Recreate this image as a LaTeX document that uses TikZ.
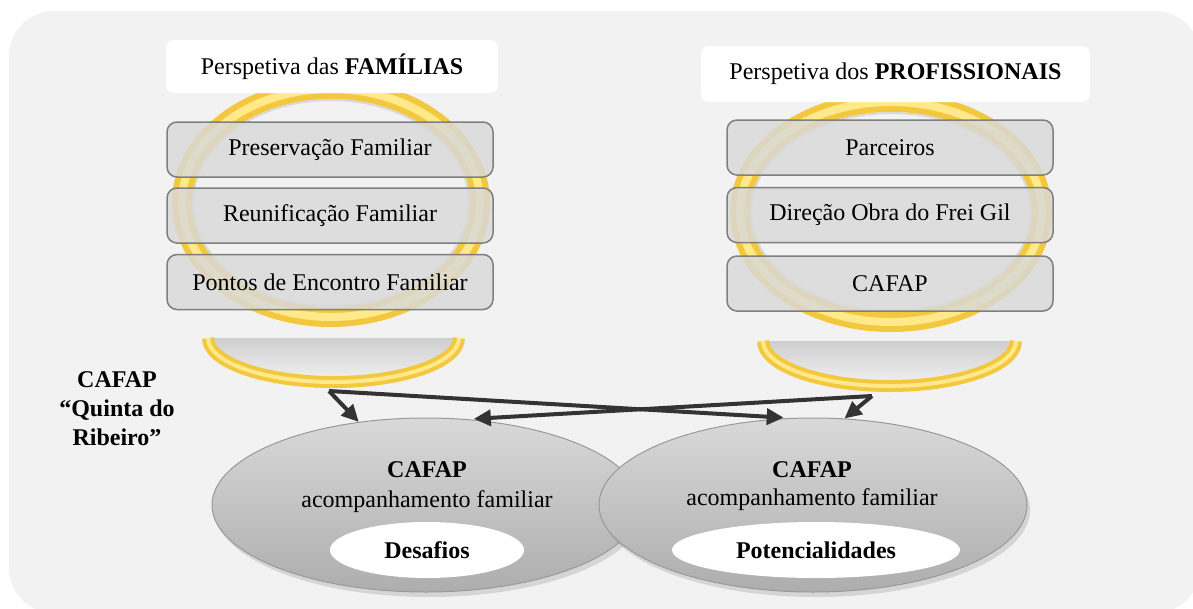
\documentclass[tikz,border=0pt]{standalone}
\usepackage{fontspec}
\setmainfont{Liberation Serif}
\usetikzlibrary{positioning,shapes.geometric,arrows.meta,shadows}

\definecolor{panelGray}{HTML}{F2F2F2}
\definecolor{ringGold}{HTML}{F3C83E}
\definecolor{ringLight}{HTML}{FFE98A}
\definecolor{itemGray}{HTML}{D9D9D9}
\definecolor{itemLine}{HTML}{7F7F7F}
\definecolor{arrowGray}{HTML}{333333}

\tikzset{
  txt/.style={font=\fontsize{24}{29}\selectfont, align=center, inner sep=0pt},
  titlebox/.style={txt, fill=white, rounded corners=8pt},
  itembox/.style={txt, draw=itemLine, line width=1.5pt, fill=itemGray, fill opacity=0.82,
    text opacity=1, rounded corners=10pt, minimum width=326pt, minimum height=55pt},
  ringout/.style={draw=ringGold, line width=20pt},
  ringin/.style={draw=ringLight, line width=8pt},
  bigell/.style={ellipse, draw=gray!80, line width=1pt, top color=gray!30, middle color=gray!58,
    bottom color=gray!64, minimum width=428pt, minimum height=174pt, inner sep=0pt,
    drop shadow={opacity=0.25, shadow xshift=3pt, shadow yshift=-5pt}},
  innerell/.style={txt, ellipse, fill=white, minimum height=56pt},
  link/.style={-{Triangle[length=17pt,width=16pt]}, line width=4pt, draw=arrowGray}
}

\begin{document}
\begin{tikzpicture}[x=1pt,y=-1pt]
  \useasboundingbox (0,0) rectangle (1193,608);
  \fill[panelGray, rounded corners=45pt] (9,11) rectangle (1200,613);

  % rings
  \draw[ringout] (331,203) ellipse [x radius=149pt, y radius=114pt];
  \draw[ringin] (331,203) ellipse [x radius=149pt, y radius=114pt];
  \draw[gray!30, line width=2pt] (331,203) ellipse [x radius=138pt, y radius=103pt];
  \draw[ringout] (891,212) ellipse [x radius=151pt, y radius=110pt];
  \draw[ringin] (891,212) ellipse [x radius=151pt, y radius=110pt];
  \draw[gray!30, line width=2pt] (891,212) ellipse [x radius=140pt, y radius=99pt];

  % bowls
  \shade[top color=gray!38, bottom color=panelGray] (208,338) arc[start angle=180, end angle=360, x radius=125.5pt, y radius=44pt] -- cycle;
  \draw[draw=ringGold, line width=12pt] (208,338) arc[start angle=180, end angle=360, x radius=125.5pt, y radius=44pt];
  \draw[draw=ringLight, line width=4pt] (208,338) arc[start angle=180, end angle=360, x radius=125.5pt, y radius=44pt];
  \shade[top color=gray!38, bottom color=panelGray] (763,341) arc[start angle=180, end angle=360, x radius=126.5pt, y radius=45pt] -- cycle;
  \draw[draw=ringGold, line width=12pt] (763,341) arc[start angle=180, end angle=360, x radius=126.5pt, y radius=45pt];
  \draw[draw=ringLight, line width=4pt] (763,341) arc[start angle=180, end angle=360, x radius=126.5pt, y radius=45pt];

  % titles
  \node[titlebox, minimum width=332pt, minimum height=53pt] (famTitle) at (332,66.5) {Perspetiva das \textbf{FAMÍLIAS}};
  \node[titlebox, minimum width=389pt, minimum height=56pt] (proTitle) at (895.5,74) {Perspetiva dos \textbf{PROFISSIONAIS}};

  % items
  \node[itembox] (preserv) at (330,149.5) {Preservação Familiar};
  \node[itembox] (reunif) at (330,215.5) {Reunificação Familiar};
  \node[itembox] (pontos) at (330,282) {Pontos de Encontro Familiar};
  \node[itembox] (parceiros) at (890,147.5) {Parceiros};
  \node[itembox] (direcao) at (890,215) {Direção Obra do Frei Gil};
  \node[itembox] (cafapItem) at (890,283.5) {CAFAP};

  \node[txt, font=\fontsize{24}{29}\selectfont\bfseries] (quinta) at (117,409) {CAFAP\\“Quinta do\\Ribeiro”};

  % ellipses
  \node[bigell] (desafiosEll) at (426,505) {};
  \node[bigell] (potencEll) at (813,505) {};
  \node[txt, font=\fontsize{24}{29}\selectfont\bfseries] (desCafap) at (427,470) {CAFAP};
  \node[txt] (desAcomp) at (427,502) {acompanhamento familiar};
  \node[innerell, minimum width=194pt] (desafios) at (427,550) {\textbf{Desafios}};
  \node[txt, font=\fontsize{24}{29}\selectfont\bfseries] (potCafap) at (812,470) {CAFAP};
  \node[txt] (potAcomp) at (812,500) {acompanhamento familiar};
  \node[innerell, minimum width=288pt] (potenc) at (816,550) {\textbf{Potencialidades}};

  % links
  \coordinate (famBase) at (329,391);
  \coordinate (proBase) at (872,396);
  \draw[link] (famBase) -- (desafiosEll.129.7);
  \draw[link, shorten >=6pt] (famBase) -- (potencEll.105.6);
  \draw[link, shorten >=6pt] (proBase) -- (desafiosEll.64.4);
  \draw[link] (proBase) -- (potencEll.70.5);
\end{tikzpicture}
\end{document}
